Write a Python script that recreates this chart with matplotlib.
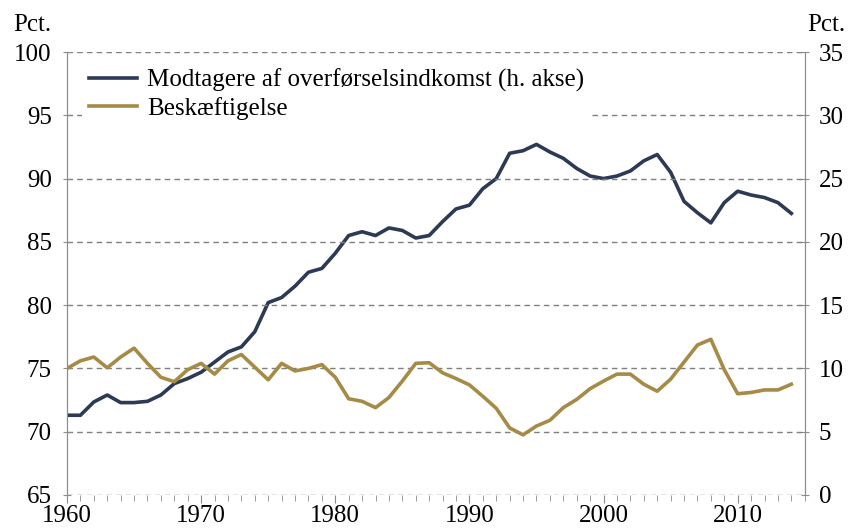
import matplotlib
matplotlib.use("Agg")
import matplotlib.pyplot as plt
from matplotlib.ticker import MultipleLocator

years = list(range(1960, 2015))
# Modtagere af overførselsindkomst (right axis, pct.)
modtagere = [6.3, 6.3, 7.35, 7.9, 7.3, 7.3, 7.4, 7.9, 8.8, 9.2,
             9.7, 10.5, 11.3, 11.7, 12.9, 15.2, 15.6, 16.5, 17.6, 17.9,
             19.1, 20.5, 20.8, 20.5, 21.1, 20.9, 20.3, 20.5, 21.6, 22.6,
             22.9, 24.2, 25.0, 27.0, 27.2, 27.7, 27.1, 26.6, 25.8, 25.2,
             25.0, 25.2, 25.6, 26.4, 26.9, 25.5, 23.2, 22.3, 21.5, 23.1,
             24.0, 23.7, 23.5, 23.1, 22.25]
# Beskæftigelse (left axis, pct.)
beskaeft = [75.0, 75.6, 75.9, 75.05, 75.9, 76.6, 75.4, 74.3, 73.95, 74.9,
            75.4, 74.55, 75.6, 76.1, 75.1, 74.1, 75.4, 74.8, 75.0, 75.3,
            74.3, 72.6, 72.4, 71.9, 72.7, 74.0, 75.4, 75.45, 74.65, 74.2,
            73.7, 72.8, 71.85, 70.3, 69.75, 70.45, 70.9, 71.9, 72.55, 73.4,
            74.0, 74.55, 74.55, 73.75, 73.2, 74.15, 75.5, 76.85, 77.3, 74.9,
            73.0, 73.1, 73.3, 73.3, 73.75]

label_m = "Modtagere af overførselsindkomst (h. akse)"
label_b = "Beskæftigelse"

navy = "#2c3a56"
gold = "#a58b46"
grid_c = "#7f7f7f"
spine_c = "#8c8c8c"
fs = 18

plt.rcParams['font.family'] = ['Liberation Serif', 'DejaVu Serif']

fig = plt.figure(figsize=(8.48, 5.29), dpi=100)
ax = fig.add_axes([0.079, 0.0643, 0.870, 0.8374])
ax2 = ax.twinx()

ax.set_xlim(1960, 2015)
ax.set_ylim(65, 100)
ax2.set_ylim(0, 35)

for v in range(65, 101, 5):
    ax.axhline(v, color=grid_c, lw=1.0, ls=(0, (4, 3)), zorder=0)

lb, = ax.plot(years, beskaeft, color=gold, lw=2.6, zorder=3, label=label_b)
lm, = ax2.plot(years, modtagere, color=navy, lw=2.6, zorder=3, label=label_m)

ax.set_zorder(ax2.get_zorder() + 1)
ax.patch.set_visible(False)

for a in (ax, ax2):
    a.spines['top'].set_visible(False)
    a.spines['bottom'].set_visible(False)
    a.spines['left'].set_color(spine_c)
    a.spines['right'].set_color(spine_c)

ax.yaxis.set_major_locator(MultipleLocator(5))
ax2.yaxis.set_major_locator(MultipleLocator(5))
ax.xaxis.set_major_locator(MultipleLocator(10))
ax.xaxis.set_minor_locator(MultipleLocator(1))
ax.tick_params(axis='y', direction='inout', length=6, color=spine_c, labelsize=fs, pad=8)
ax2.tick_params(axis='y', direction='inout', length=6, color=spine_c, labelsize=fs, pad=7)
ax.tick_params(axis='x', which='major', direction='out', length=6, color=spine_c, labelsize=fs, pad=1)
ax.tick_params(axis='x', which='minor', direction='out', length=4, color=spine_c)

leg = ax.legend(handles=[lm, lb], loc='upper left', bbox_to_anchor=(0.02, 0.98),
                frameon=True, fontsize=fs, handlelength=1.9, handletextpad=0.4,
                labelspacing=0.2, borderaxespad=0.0, borderpad=0.3)
leg.get_frame().set_facecolor('white')
leg.get_frame().set_edgecolor('none')
leg.get_frame().set_alpha(1.0)

fig.text(0.015, 0.932, "Pct.", fontsize=fs, ha='left', va='bottom')
fig.text(0.997, 0.932, "Pct.", fontsize=fs, ha='right', va='bottom')

fig.savefig("out.png", dpi=100)
